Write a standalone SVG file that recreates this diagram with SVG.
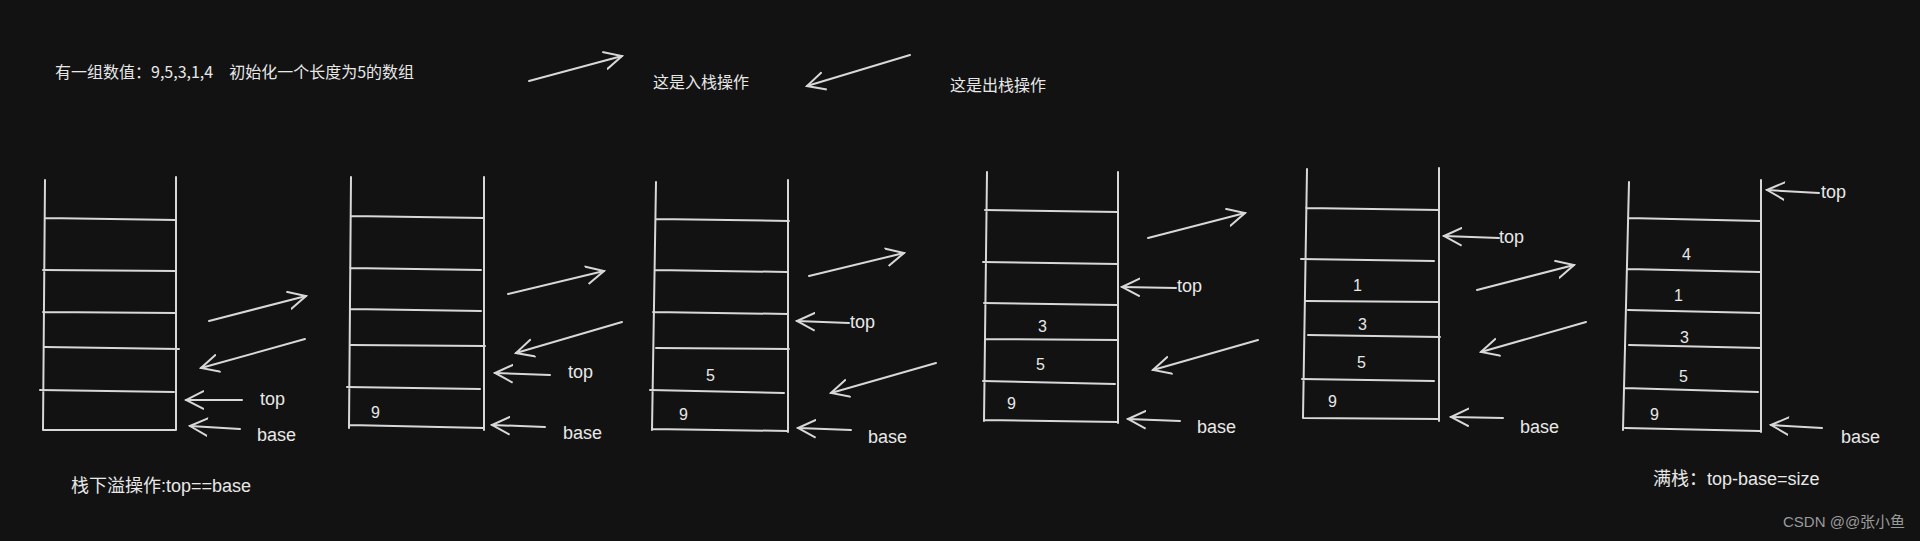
<svg xmlns="http://www.w3.org/2000/svg" width="1920" height="541" viewBox="0 0 1920 541">
<style>
.s{fill:none;stroke:#d8d8d8;stroke-width:2;stroke-linecap:round}
.a{fill:none;stroke:#d8d8d8;stroke-width:2;stroke-linecap:round;marker-end:url(#ah)}
.t{fill:#e8e8e8;font-family:"Liberation Sans","Noto Sans CJK SC",sans-serif;font-size:18px}
.n{fill:#e8e8e8;font-family:"Liberation Sans",sans-serif;font-size:16px}
.c{fill:#e8e8e8;font-family:"Noto Sans CJK SC",sans-serif;font-size:16px}
</style>
<defs>
<marker id="ah" viewBox="0 0 20 20" refX="18" refY="10" markerWidth="20" markerHeight="20" markerUnits="userSpaceOnUse" orient="auto">
<path d="M0,1 L18,10 L0,19" fill="none" stroke="#d8d8d8" stroke-width="2"/>
</marker>
</defs>
<rect width="1920" height="541" fill="#121212"/>
<g id="header">
<text class="c" x="55" y="78">有一组数值：9,5,3,1,4　初始化一个长度为5的数组</text>
<text class="c" x="653" y="88">这是入栈操作</text>
<text class="c" x="950" y="91">这是出栈操作</text>
</g>
<g id="stack1">
<path class="s" d="M45,180 L43,430 M176,177 L176,430 M43,430 L176,430 M45,218 L176,220 M43,270 L176,271 M43,312 L176,313 M45,347 L179,349 M40,390 L174,392"/>
</g>
<g id="stack2">
<path class="s" d="M351,177 L349,428 M484,177 L484,430 M349,425 L484,428 M351,216 L484,218 M350,268 L481,270 M350,309 L481,311 M351,345 L485,346 M347,387 L480,389"/>
<text class="n" x="371" y="418">9</text>
</g>
<g id="stack3">
<path class="s" d="M656,182 L652,430 M788,180 L788,432 M652,429 L788,431 M656,219 L789,221 M655,270 L787,272 M653,312 L788,314 M656,348 L789,349 M650,390 L784,393"/>
<text class="n" x="706" y="381">5</text>
<text class="n" x="679" y="420">9</text>
</g>
<g id="stack4">
<path class="s" d="M987,172 L984,421 M1118,172 L1118,423 M984,420 L1118,422 M985,210 L1118,212 M983,262 L1118,264 M984,303 L1118,305 M985,339 L1118,340 M983,381 L1115,384"/>
<text class="n" x="1038" y="332">3</text>
<text class="n" x="1036" y="370">5</text>
<text class="n" x="1007" y="409">9</text>
</g>
<g id="stack5">
<path class="s" d="M1307,169 L1303,418 M1439,168 L1439,421 M1304,418 L1439,419 M1306,208 L1439,210 M1301,259 L1434,261 M1306,301 L1439,302 M1308,335 L1440,337 M1302,379 L1434,381"/>
<text class="n" x="1353" y="291">1</text>
<text class="n" x="1358" y="330">3</text>
<text class="n" x="1357" y="368">5</text>
<text class="n" x="1328" y="407">9</text>
</g>
<g id="stack6">
<path class="s" d="M1629,182 L1623,430 M1761,180 L1761,432 M1625,428 L1760,431 M1628,218 L1760,221 M1627,269 L1760,272 M1628,310 L1760,313 M1629,345 L1761,348 M1624,388 L1758,392"/>
<text class="n" x="1682" y="260">4</text>
<text class="n" x="1674" y="301">1</text>
<text class="n" x="1680" y="343">3</text>
<text class="n" x="1679" y="382">5</text>
<text class="n" x="1650" y="420">9</text>
</g>
<g id="connectors">
<path class="a" d="M529,81 L622,56"/>
<path class="a" d="M910,55 L807,86"/>
<path class="a" d="M209,321 L306,296"/>
<path class="a" d="M305,339 L201,368"/>
<path class="a" d="M242,400 L186,400"/>
<path class="a" d="M240,429 L190,426"/>
<path class="a" d="M508,294 L604,271"/>
<path class="a" d="M622,322 L516,353"/>
<path class="a" d="M550,375 L495,373"/>
<path class="a" d="M545,427 L492,425"/>
<path class="a" d="M809,276 L904,253"/>
<path class="a" d="M849,323 L797,321"/>
<path class="a" d="M936,363 L831,393"/>
<path class="a" d="M851,430 L798,428"/>
<path class="a" d="M1148,238 L1245,213"/>
<path class="a" d="M1176,288 L1122,287"/>
<path class="a" d="M1258,340 L1153,370"/>
<path class="a" d="M1180,421 L1128,419"/>
<path class="a" d="M1477,290 L1574,265"/>
<path class="a" d="M1499,238 L1444,236"/>
<path class="a" d="M1586,322 L1481,352"/>
<path class="a" d="M1503,418 L1451,417"/>
<path class="a" d="M1819,193 L1767,190"/>
<path class="a" d="M1822,428 L1771,425"/>
</g>
<g id="labels">
<text class="t" x="260" y="405">top</text>
<text class="t" x="257" y="441">base</text>
<text class="t" x="568" y="378">top</text>
<text class="t" x="563" y="439">base</text>
<text class="t" x="850" y="328">top</text>
<text class="t" x="868" y="443">base</text>
<text class="t" x="1177" y="292">top</text>
<text class="t" x="1197" y="433">base</text>
<text class="t" x="1499" y="243">top</text>
<text class="t" x="1520" y="433">base</text>
<text class="t" x="1821" y="198">top</text>
<text class="t" x="1841" y="443">base</text>
<text class="t" x="71" y="492">栈下溢操作:top==base</text>
<text class="t" x="1653" y="485">满栈：top-base=size</text>
<text x="1783" y="527" style="fill:#9a9a9a;font-family:'Liberation Sans','Noto Sans CJK SC',sans-serif;font-size:15px">CSDN @@张小鱼</text>
</g>
</svg>
